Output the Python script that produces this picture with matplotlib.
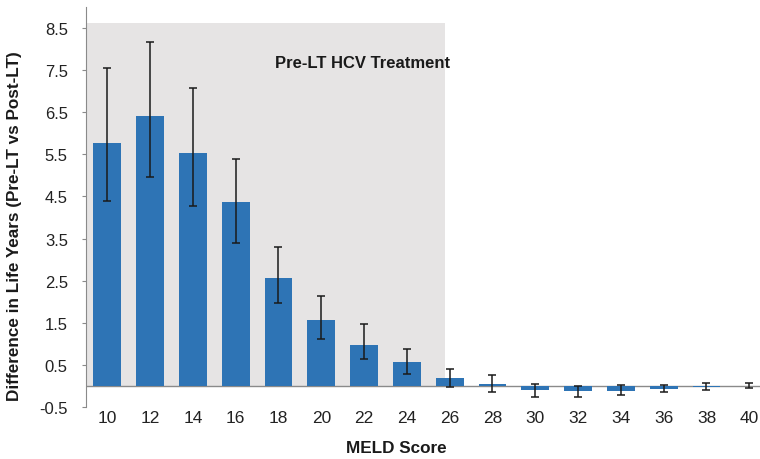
import numpy as np
import matplotlib
matplotlib.use("Agg")
import matplotlib.pyplot as plt
from matplotlib.patches import Rectangle

plt.rcParams['font.family'] = ['Liberation Sans', 'DejaVu Sans']

# ------------ Data -------------
meld = ["10", "12", "14", "16", "18", "20", "22", "24", "26",
        "28", "30", "32", "34", "36", "38", "40"]
diff_years = [5.76, 6.40, 5.52, 4.36, 2.57, 1.57, 0.98, 0.57, 0.19,
              0.04, -0.10, -0.13, -0.13, -0.07, -0.02, 0.0]
err_low = [4.38, 4.95, 4.26, 3.40, 1.98, 1.12, 0.64, 0.29, -0.02,
           -0.14, -0.27, -0.27, -0.22, -0.15, -0.10, -0.06]
err_high = [7.55, 8.17, 7.07, 5.38, 3.29, 2.14, 1.48, 0.88, 0.40,
            0.25, 0.05, 0.0, 0.03, 0.03, 0.07, 0.07]
yticks = [-0.5, 0.5, 1.5, 2.5, 3.5, 4.5, 5.5, 6.5, 7.5, 8.5]
n_pre_lt = 9  # MELD 10..26 shaded as pre-LT treatment region

x = np.arange(len(meld))
vals = np.array(diff_years)
yerr = np.vstack([vals - np.array(err_low), np.array(err_high) - vals])

fig = plt.figure(figsize=(7.6, 4.6), dpi=100)
ax = fig.add_axes([0.113, 0.113, 0.887, 0.870])

# shaded pre-LT region
ax.add_patch(Rectangle((-0.5, 0), n_pre_lt - 0.62, 8.62,
                       facecolor='#e6e4e4', edgecolor='none', zorder=0))

ax.bar(x, vals, width=0.65, color='#2e74b5', zorder=2)
ax.errorbar(x, vals, yerr=yerr, fmt='none', ecolor='#1a1a1a',
            elinewidth=1.1, capsize=3, capthick=1.1, zorder=3)
ax.axhline(0, color='#8a8a8a', linewidth=1.0, zorder=1)

ax.text(8.0, 7.68, "Pre-LT HCV Treatment", fontsize=12, fontweight='bold',
        ha='right', va='center', color='#1a1a1a')

ax.set_xlim(-0.5, 15.25)
ax.set_ylim(-0.5, 9.0)
ax.set_xticks(x)
ax.set_xticklabels(meld)
ax.set_yticks(yticks)
ax.set_yticklabels([f"{t:.1f}" for t in yticks])

for s in ['top', 'right', 'bottom']:
    ax.spines[s].set_visible(False)
ax.spines['left'].set_color('#8a8a8a')
ax.tick_params(axis='x', length=0, pad=2, labelsize=12.5, labelcolor='#222222')
ax.tick_params(axis='y', length=3, color='#8a8a8a', pad=10, labelsize=12,
               labelcolor='#222222')

ax.set_xlabel("MELD Score", fontsize=12.3, fontweight='bold', color='#1a1a1a')
ax.xaxis.set_label_coords(0.46, -0.082)
ax.set_ylabel("Difference in Life Years (Pre-LT vs Post-LT)", fontsize=12.3,
              fontweight='bold', color='#1a1a1a')
ax.yaxis.set_label_coords(-0.095, 0.455)

fig.savefig("out.png", dpi=100)
